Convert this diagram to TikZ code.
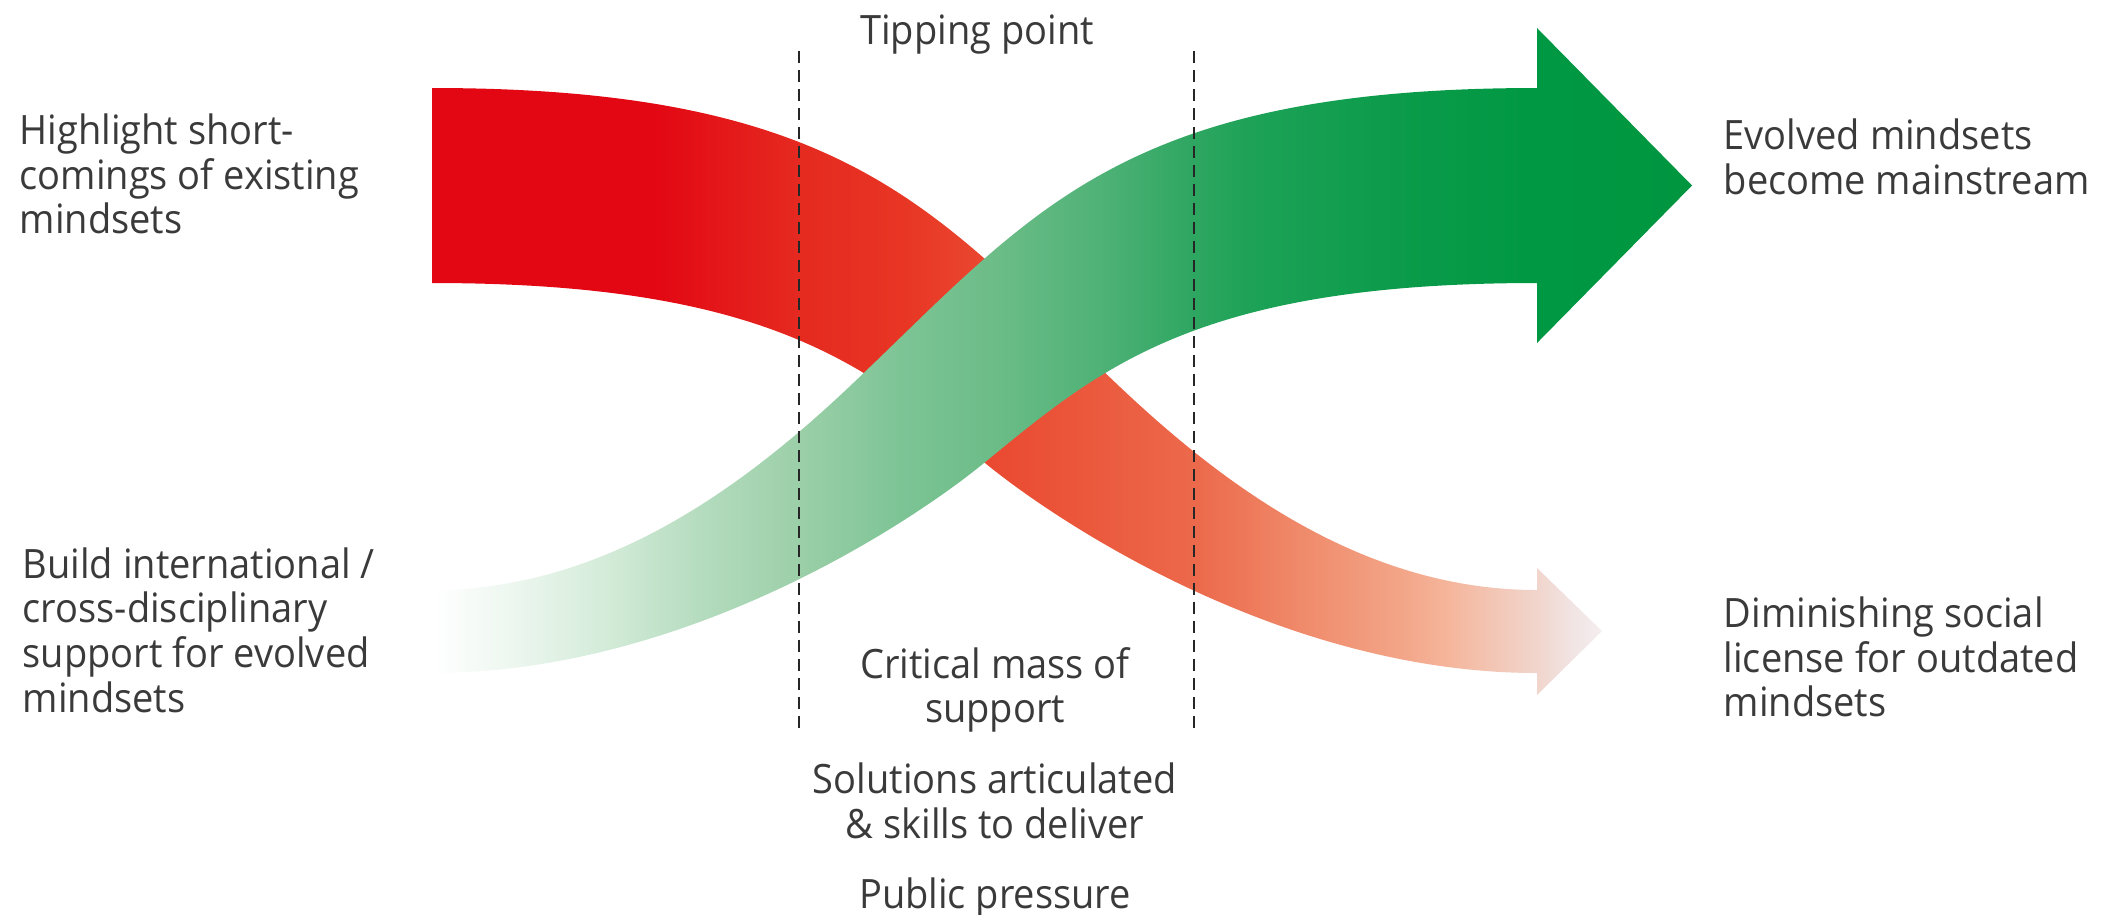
\documentclass[tikz,border=0pt]{standalone}
\usepackage{fontspec}
\setmainfont{Open Sans}[FakeStretch=0.94]
\usetikzlibrary{positioning,calc}

\definecolor{txt}{HTML}{3A3A3A}
% red band, tail to tip
\definecolor{rA}{HTML}{E30613}
\definecolor{rB}{HTML}{E52A20}
\definecolor{rC}{HTML}{E83524}
\definecolor{rD}{HTML}{EA4B32}
\definecolor{rE}{HTML}{EB5A3E}
\definecolor{rF}{HTML}{EC694B}
\definecolor{rG}{HTML}{EF8A6A}
\definecolor{rH}{HTML}{F3A588}
\definecolor{rI}{HTML}{F5B69C}
\definecolor{rJ}{HTML}{F2C8B8}
\definecolor{rK}{HTML}{F1D5CC}
\definecolor{rL}{HTML}{F1E3E2}
\definecolor{rM}{HTML}{F4EEF0}
% green band, tail to tip
\definecolor{gA}{HTML}{FFFFFF}
\definecolor{gB}{HTML}{F0F8F2}
\definecolor{gC}{HTML}{D5ECDA}
\definecolor{gD}{HTML}{B5DCBF}
\definecolor{gE}{HTML}{9BCFA8}
\definecolor{gF}{HTML}{7DC495}
\definecolor{gG}{HTML}{6BBC87}
\definecolor{gH}{HTML}{4FB277}
\definecolor{gI}{HTML}{2EA661}
\definecolor{gJ}{HTML}{1DA257}
\definecolor{gK}{HTML}{0B9B4A}
\definecolor{gL}{HTML}{009843}
\definecolor{gM}{HTML}{009640}

\pgfdeclarehorizontalshading{redfade}{100bp}{color(0bp)=(rA); color(25bp)=(rA);
  color(34.3bp)=(rA); color(40.7bp)=(rB); color(45bp)=(rC); color(49.3bp)=(rD);
  color(53.5bp)=(rE); color(57.6bp)=(rF); color(62.1bp)=(rG); color(66.4bp)=(rH);
  color(68.5bp)=(rI); color(70.6bp)=(rJ); color(72.2bp)=(rK); color(73.6bp)=(rL);
  color(75bp)=(rM); color(100bp)=(rM)}
\pgfdeclarehorizontalshading{greenfade}{100bp}{color(0bp)=(gA); color(25bp)=(gA);
  color(27.7bp)=(gB); color(31.7bp)=(gC); color(35.6bp)=(gD); color(39.6bp)=(gE);
  color(43.6bp)=(gF); color(47.5bp)=(gG); color(51.5bp)=(gH); color(55.2bp)=(gI);
  color(57.5bp)=(gJ); color(63.4bp)=(gK); color(68.8bp)=(gL); color(75bp)=(gM);
  color(100bp)=(gM)}

\tikzset{
  note/.style={inner sep=0pt, text=txt, font=\fontsize{11.5}{12.7}\selectfont},
  lnote/.style={note, align=left, anchor=west},
  cnote/.style={note, align=center},
  cutline/.style={black!85, line width=0.7pt, dash pattern=on 3.4pt off 2pt}
}

\begin{document}
\begin{tikzpicture}[x=0.01cm, y=-0.01cm]
    \useasboundingbox (0,0) rectangle (2116,914);

    % outdated mindsets: red band going down
    \shade[shading=redfade] (432,88) .. controls (852,88) and (938,215) .. (1120,387)
        .. controls (1229,490) and (1367,590) .. (1537,590) -- (1537,568) -- (1602,631)
        -- (1537,695) -- (1537,673) .. controls (1287,673) and (1062,526) .. (985,463)
        .. controls (869,368) and (772,283) .. (432,283) -- cycle;

    % evolved mindsets: green band going up
    \shade[shading=greenfade] (432,590) .. controls (602,590) and (740,490) .. (849,387)
        .. controls (1031,215) and (1117,88) .. (1537,88) -- (1537,28) -- (1692,185.5)
        -- (1537,343) -- (1537,283) .. controls (1197,283) and (1100,368) .. (984,463)
        .. controls (907,526) and (682,673) .. (432,673) -- cycle;

    \coordinate (T1) at (799,51);
    \coordinate (B1) at (799,729);
    \coordinate (T2) at (1194,51);
    \coordinate (B2) at (1194,729);
    \draw[cutline] (T1) -- (B1);
    \draw[cutline] (T2) -- (B2);

    \node[cnote] (Tip) at (977,35) {Tipping point};
    \node[lnote] (Short) at (19,174) {Highlight short-\\comings of existing\\mindsets};
    \node[lnote] (Build) at (22,630) {Build international /\\cross-disciplinary\\support for evolved\\mindsets};
    \node[lnote] (Main) at (1723,157) {Evolved mindsets\\become mainstream};
    \node[lnote] (License) at (1723,657) {Diminishing social\\license for outdated\\mindsets};
    \node[cnote] (Mass) at (995,690) {Critical mass of\\support};
    \node[cnote, below=0.29cm of Mass] (Skills) {Solutions articulated\\\& skills to deliver};
    \node[cnote, below=0.37cm of Skills] (Public) {Public pressure};
\end{tikzpicture}
\end{document}
